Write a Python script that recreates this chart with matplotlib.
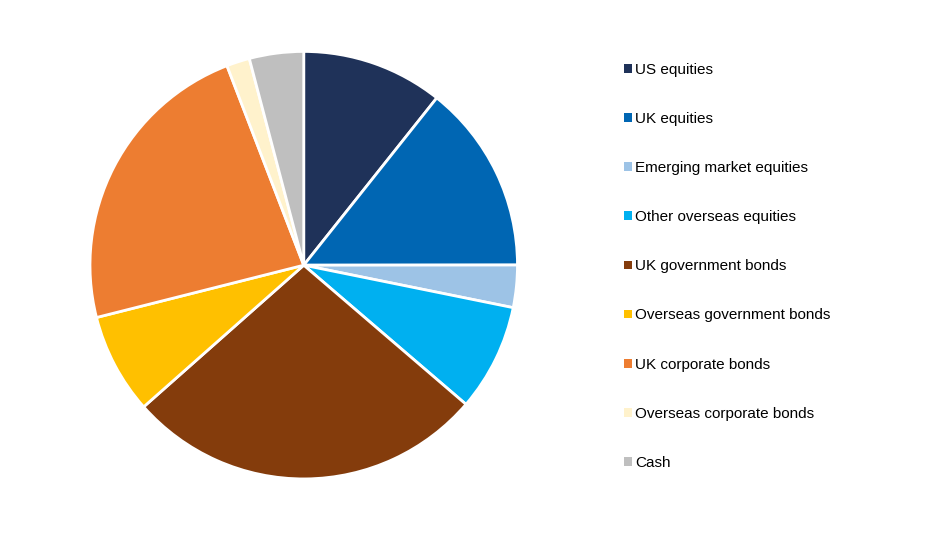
import matplotlib.pyplot as plt
from matplotlib.patches import Patch

labels = ["US equities", "UK equities", "Emerging market equities",
          "Other overseas equities", "UK government bonds",
          "Overseas government bonds", "UK corporate bonds",
          "Overseas corporate bonds", "Cash"]
shares = [10.7, 14.3, 3.2, 8.1, 27.2, 7.6, 23.1, 1.75, 4.1]
colors = ["#1F3259", "#0066B3", "#9DC3E6", "#00B0F0", "#843C0C",
          "#FFC000", "#ED7D31", "#FFF2CC", "#BFBFBF"]

fig = plt.figure(figsize=(9.36, 5.39), dpi=100)
ax = fig.add_axes([0.095, 0.109, 0.459, 0.798])
ax.pie(shares, colors=colors, startangle=90, counterclock=False,
       wedgeprops=dict(edgecolor="white", linewidth=2))
ax.set_aspect("equal")
ax.set_xlim(-1.005, 1.005)
ax.set_ylim(-1.005, 1.005)

handles = [Patch(facecolor=c, edgecolor="none") for c in colors]
fig.legend(handles, labels, loc="upper left", bbox_to_anchor=(0.652, 0.909),
           frameon=False, handlelength=0.5, handleheight=0.5,
           handletextpad=0.25, labelspacing=2.3,
           prop={"family": "Liberation Sans", "size": 11})

fig.savefig("out.png", dpi=100)
